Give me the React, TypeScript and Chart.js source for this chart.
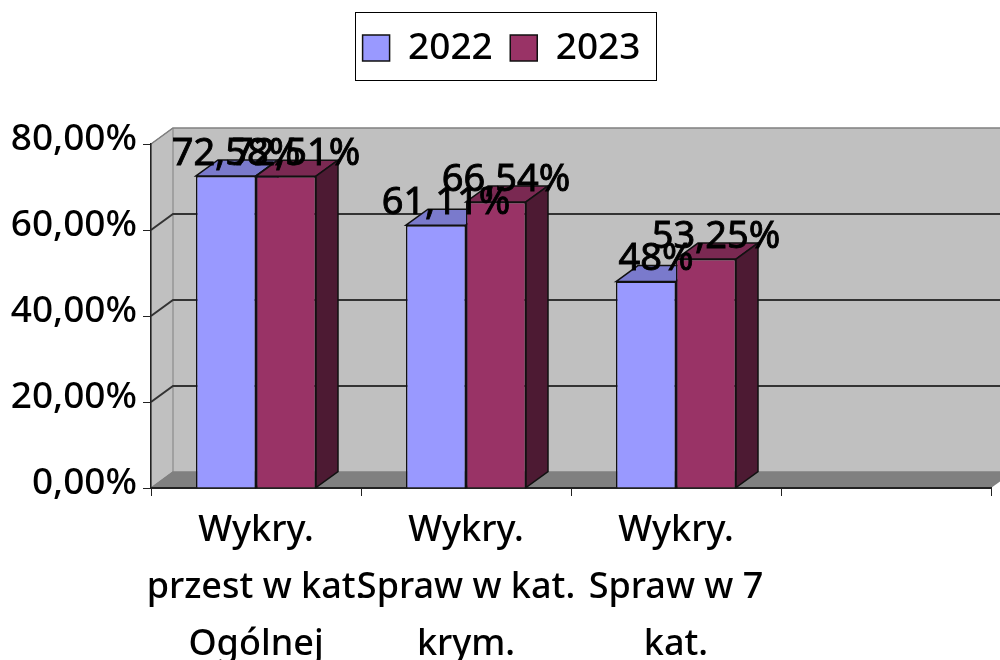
import React, { useEffect, useRef } from "react";
import { Chart, registerables } from "chart.js";

Chart.register(...registerables);

const categories = [
  ["Wykry.", "przest w kat.", "Ogólnej"],
  ["Wykry.", "Spraw w kat.", "krym."],
  ["Wykry.", "Spraw w 7", "kat."],
  "",
];
const values2022 = [72.58, 61.11, 48, null];
const values2023 = [72.51, 66.54, 53.25, null];
const seriesNames = ["2022", "2023"];

const FONT = '"Noto Sans", sans-serif';
const DX = 22;
const DY = 16;

const faceColors = [
  { top: "#7A7ACC", side: "#4D4D80" },
  { top: "#7A2952", side: "#4D1A33" },
];

const fmtAxis = (v: number) => v.toFixed(2).replace(".", ",") + "%";
const fmtLabel = (v: number) => String(v).replace(".", ",") + "%";

const scene = {
  id: "scene3d",
  afterLayout(chart: any) {
    const lg = chart.legend;
    lg.top = 12;
    lg.left += 6;
    lg.right += 6;
  },
  beforeDraw(chart: any) {
    const { ctx, chartArea: a, scales } = chart;
    const y = scales.y;
    ctx.save();
    // back wall
    ctx.fillStyle = "#C0C0C0";
    ctx.fillRect(a.left + DX, a.top - DY, a.right - a.left, a.bottom - a.top);
    // left wall
    ctx.beginPath();
    ctx.moveTo(a.left, a.top);
    ctx.lineTo(a.left + DX, a.top - DY);
    ctx.lineTo(a.left + DX, a.bottom - DY);
    ctx.lineTo(a.left, a.bottom);
    ctx.closePath();
    ctx.fill();
    ctx.strokeStyle = "#808080";
    ctx.lineWidth = 1;
    ctx.stroke();
    // floor
    ctx.fillStyle = "#808080";
    ctx.beginPath();
    ctx.moveTo(a.left, a.bottom);
    ctx.lineTo(a.left + DX, a.bottom - DY);
    ctx.lineTo(a.right + DX, a.bottom - DY);
    ctx.lineTo(a.right, a.bottom);
    ctx.closePath();
    ctx.fill();
    // grid lines on walls
    for (const t of y.ticks) {
      const py = y.getPixelForValue(t.value);
      const isTop = t.value === y.max;
      const isZero = t.value === y.min;
      ctx.strokeStyle = isTop || isZero ? "#808080" : "#333333";
      ctx.lineWidth = isTop || isZero ? 1.5 : 2;
      ctx.beginPath();
      ctx.moveTo(a.left, py);
      ctx.lineTo(a.left + DX, py - DY);
      ctx.lineTo(a.right + DX, py - DY);
      ctx.stroke();
    }
    ctx.restore();
  },
  beforeDatasetsDraw(chart: any) {
    const { ctx } = chart;
    ctx.save();
    ctx.lineWidth = 1.5;
    ctx.strokeStyle = "#111111";
    chart.data.datasets.forEach((ds: any, di: number) => {
      chart.getDatasetMeta(di).data.forEach((bar: any, i: number) => {
        if (ds.data[i] == null) return;
        const p = bar.getProps(["x", "y", "base", "width"], true);
        const l = p.x - p.width / 2;
        const r = p.x + p.width / 2;
        ctx.fillStyle = faceColors[di].top;
        ctx.beginPath();
        ctx.moveTo(l, p.y);
        ctx.lineTo(l + DX, p.y - DY);
        ctx.lineTo(r + DX, p.y - DY);
        ctx.lineTo(r, p.y);
        ctx.closePath();
        ctx.fill();
        ctx.stroke();
        ctx.fillStyle = faceColors[di].side;
        ctx.beginPath();
        ctx.moveTo(r, p.y);
        ctx.lineTo(r + DX, p.y - DY);
        ctx.lineTo(r + DX, p.base - DY);
        ctx.lineTo(r, p.base);
        ctx.closePath();
        ctx.fill();
        ctx.stroke();
      });
    });
    ctx.restore();
  },
  afterDatasetsDraw(chart: any) {
    const { ctx } = chart;
    ctx.save();
    ctx.font = `38px ${FONT}`;
    ctx.fillStyle = "#000000";
    ctx.strokeStyle = "#000000";
    ctx.lineWidth = 0.9;
    ctx.textAlign = "center";
    ctx.textBaseline = "middle";
    chart.data.datasets.forEach((ds: any, di: number) => {
      chart.getDatasetMeta(di).data.forEach((bar: any, i: number) => {
        const v = ds.data[i];
        if (v == null) return;
        const p = bar.getProps(["x", "y"], true);
        ctx.fillText(fmtLabel(v), p.x + 10, p.y - 22);
        ctx.strokeText(fmtLabel(v), p.x + 10, p.y - 22);
      });
    });
    ctx.restore();
  },
  afterDraw(chart: any) {
    const { ctx } = chart;
    ctx.save();
    ctx.strokeStyle = "#000000";
    ctx.lineWidth = 1;
    ctx.strokeRect(355.5, 12.5, 301, 68);
    ctx.restore();
  },
};

export default function App() {
  const ref = useRef<HTMLCanvasElement>(null);
  useEffect(() => {
    const chart = new Chart(ref.current as HTMLCanvasElement, {
      type: "bar",
      plugins: [scene],
      data: {
        labels: categories as any,
        datasets: [
          {
            label: seriesNames[0],
            data: values2022,
            backgroundColor: "#9999FF",
            borderColor: "#111111",
            borderWidth: 1.5,
            categoryPercentage: 120 / 210,
            barPercentage: 1,
          },
          {
            label: seriesNames[1],
            data: values2023,
            backgroundColor: "#993366",
            borderColor: "#111111",
            borderWidth: 1.5,
            categoryPercentage: 120 / 210,
            barPercentage: 1,
          },
        ],
      } as any,
      options: {
        responsive: false,
        animation: false,
        layout: { padding: { top: 79.5, right: 9, left: 0, bottom: 0 } },
        plugins: {
          tooltip: { enabled: false },
          legend: {
            display: true,
            position: "top",
            labels: {
              boxWidth: 27,
              boxHeight: 26,
              padding: 17.5,
              color: "#000000",
              font: { family: FONT, size: 37, weight: "500" },
            },
          },
        },
        scales: {
          x: {
            afterFit: (s: any) => {
              s.height = 172;
            },
            border: { color: "#222222", width: 2 },
            grid: { drawOnChartArea: false, drawTicks: true, tickLength: 8, color: "#222222", offset: true },
            ticks: {
              autoSkip: false,
              maxRotation: 0,
              minRotation: 0,
              padding: 6,
              color: "#000000",
              font: { family: FONT, size: 36, weight: "500", lineHeight: 57 / 36 },
            },
          },
          y: {
            min: 0,
            max: 80,
            afterFit: (s: any) => {
              s.width = 151;
            },
            border: { color: "#222222", width: 1.5 },
            grid: { drawOnChartArea: false, drawTicks: true, tickLength: 8, color: "#222222" },
            ticks: {
              stepSize: 20,
              padding: 6,
              labelOffset: -5,
              color: "#000000",
              font: { family: FONT, size: 37, weight: "500" },
              callback: (v: any) => fmtAxis(Number(v)),
            },
          },
        },
      },
    } as any);
    return () => chart.destroy();
  }, []);
  return (
    <canvas
      ref={ref}
      width={1000}
      height={660}
      style={{ position: "absolute", left: 0, top: 0, width: 1000, height: 660, display: "block" }}
    />
  );
}
